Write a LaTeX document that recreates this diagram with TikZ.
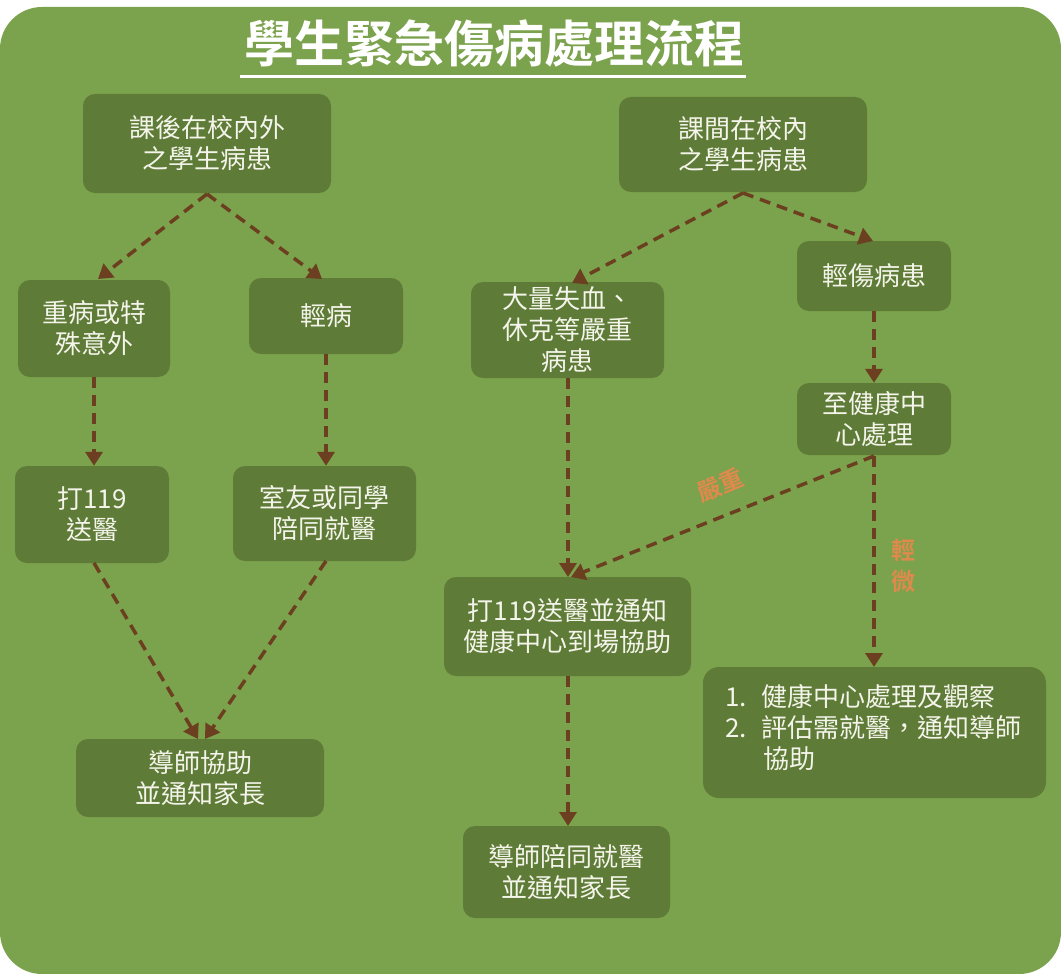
\documentclass[tikz,border=0pt]{standalone}
\usepackage{fontspec}
\setmainfont{Noto Sans CJK TC}
\newfontfamily\cjk{Noto Sans CJK TC}
\newfontfamily\cjkb{Noto Sans CJK TC Bold}
\usetikzlibrary{arrows.meta}
\definecolor{bggreen}{HTML}{7BA24C}
\definecolor{boxgreen}{HTML}{5E7B37}
\definecolor{arrbrown}{HTML}{6B3F1F}
\definecolor{txtwhite}{HTML}{F4F4EA}
\definecolor{lblorange}{HTML}{DE8A4C}
\begin{document}
\begin{tikzpicture}[x=1pt,y=-1pt,
  box/.style={draw=none,fill=boxgreen,rounded corners=12pt,text=txtwhite,
    font=\cjk\fontsize{26}{31}\selectfont,align=center,inner sep=0pt},
  flow/.style={draw=arrbrown,line width=3.5pt,dash pattern=on 11pt off 7pt,
    -{Triangle[length=14pt,width=17pt]}},
  lbl/.style={text=lblorange,font=\cjkb\fontsize{24}{31}\selectfont,align=center}]
\useasboundingbox (0,0) rectangle (1061,974);
\fill[bggreen,rounded corners=42pt] (0,7) rectangle (1061,974);
% title
\node[text=white,font=\cjkb\fontsize{50}{52}\selectfont,inner sep=0pt] (title) at (494,44) {學生緊急傷病處理流程};
\draw[white,line width=3pt] (240,77) -- (746,77);
% boxes
\node[box,minimum width=248pt,minimum height=99pt] (b1) at (207,143.5) {課後在校內外\\之學生病患};
\node[box,minimum width=248pt,minimum height=95pt] (b2) at (743,144.5) {課間在校內\\之學生病患};
\node[box,minimum width=152pt,minimum height=97pt] (b3) at (94,328.5) {重病或特\\殊意外};
\node[box,minimum width=154pt,minimum height=76pt] (b4) at (326,316) {輕病};
\node[box,minimum width=193pt,minimum height=96pt] (b5) at (567.5,330) {大量失血、\\休克等嚴重\\病患};
\node[box,minimum width=154pt,minimum height=70pt] (b6) at (874,276) {輕傷病患};
\node[box,minimum width=154pt,minimum height=72pt] (b7) at (874,419) {至健康中\\心處理};
\node[box,minimum width=154pt,minimum height=97pt] (b8) at (92,514.5) {打119\\送醫};
\node[box,minimum width=183pt,minimum height=95pt] (b9) at (324.5,513.5) {室友或同學\\陪同就醫};
\node[box,minimum width=247pt,minimum height=99pt] (b10) at (567.5,626.5) {打119送醫並通知\\健康中心到場協助};
\node[box,minimum width=343pt,minimum height=131pt,rounded corners=16pt,align=left] (b11) at (874.5,732.5) {};
\node[text=txtwhite,font=\cjk\fontsize{26}{31}\selectfont,anchor=north west,inner sep=0pt,align=left] (b11t) at (725,684)
  {1.\hspace{15pt}健康中心處理及觀察\\2.\hspace{15pt}評估需就醫，通知導師\\\hspace{38pt}協助};
\node[box,minimum width=248pt,minimum height=78pt] (b12) at (200,778) {導師協助\\並通知家長};
\node[box,minimum width=207pt,minimum height=92pt] (b13) at (566.5,872) {導師陪同就醫\\並通知家長};
% arrows
\coordinate (b1s) at (207,194);
\coordinate (b2s) at (743,193);
\coordinate (b7s) at (874,456);
\draw[flow] (b1s) -- (98,279);
\draw[flow] (b1s) -- (322,279);
\draw[flow] (b3.south) -- (b8.north -| b3.south);
\draw[flow] (b4.south) -- (b9.north -| b4.south);
\draw[flow] (94,563) -- (198,739);
\draw[flow] (326,561) -- (205,739);
\draw[flow] (b2s) -- (572,283);
\draw[flow] (b2s) -- (873,241);
\draw[flow] (b6.south) -- (b7.north);
\draw[flow] (568,378) -- (568,577);
\draw[flow] (b7s) -- (571,577);
\draw[flow] (b7s) -- (874,667);
\draw[flow] (568,676) -- (568,826);
% labels
\node[lbl,rotate=22,inner sep=1pt] (l1) at (720,485) {嚴重};
\node[lbl] (l2) at (903,566) {輕\\微};
\end{tikzpicture}
\end{document}
